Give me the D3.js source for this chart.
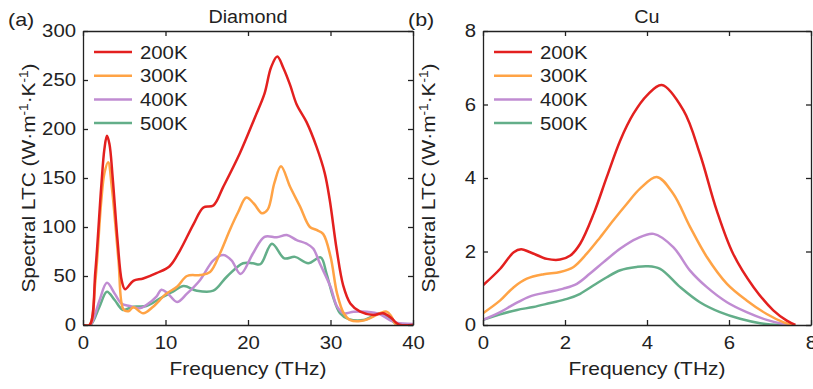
<html>
<script src="https://cdn.jsdelivr.net/npm/d3@7"></script>
<body style="margin:0;background:#fff">
<style>
text { font-family: "Liberation Sans", Arial, sans-serif; fill: #222; }
.axis path, .axis line { stroke: #222; stroke-width: 1.3; }
.curve { fill: none; stroke-width: 2.5; }
</style>
<script>
// temperatures / colours
var temps = ["200K", "300K", "400K", "500K"]
var colors = ["#e3201f", "#ffa345", "#c08cd2", "#63ae89"]

// ---- Diamond (panel a) ----
var dia200f = [0, 0.8, 1.5, 2.2, 2.6, 2.9, 3.2, 3.6, 4.2, 4.7, 5.1, 6.1, 7.3, 8.9, 10.5, 11.75, 13.4, 14.6, 15.8, 17, 19, 20.85, 22, 22.8, 23.55, 24.3, 25.1, 25.9, 27.1, 28.3, 29.3, 29.9, 30.75, 31.55, 32.4, 33.6, 35.2, 36.4, 37.4, 38, 38.5, 40]
var dia200v = [0, 0, 55, 140, 180, 193, 185, 150, 85, 45, 36.5, 45, 47.5, 53, 60, 76, 103, 120, 122, 141, 175, 212, 236, 263, 274, 262, 245, 225, 207, 182, 155, 128, 77, 40, 22, 13.6, 10.2, 12, 7, 2, 0, 0]
var dia300f = [0, 0.8, 1.5, 2.2, 2.6, 3.05, 3.5, 4.3, 4.9, 5.5, 6.1, 7.3, 8.5, 10.1, 11.4, 12.6, 14.2, 15.4, 16.6, 17.8, 18.8, 19.8, 20.7, 21.7, 22.4, 23.2, 24, 25.1, 26.3, 27.5, 28.3, 29.1, 30, 30.8, 31.6, 32.4, 33.6, 34.8, 36, 36.8, 37.4, 38, 40]
var dia300v = [0, 0, 45, 125, 155, 166, 140, 66, 16, 14, 18, 12, 18.7, 32, 39, 50, 51, 54, 73, 97, 115, 130, 124, 114, 118, 145, 162, 141, 121, 100, 97, 93, 70, 32, 12, 5, 4, 7, 12, 13.6, 8.5, 0, 0]
var dia400f = [0, 0.9, 1.5, 2.0, 2.9, 3.84, 4.65, 5.66, 6.87, 7.68, 8.9, 9.5, 10.3, 11.4, 12.6, 14.2, 15.8, 17, 18, 19.1, 20.6, 22, 23.5, 24.7, 25.9, 27.1, 27.9, 28.7, 30, 30.8, 31.6, 32.8, 34.4, 36, 37.2, 38, 40]
var dia400v = [0, 0, 12, 25, 43, 32, 22, 19.4, 17, 20.4, 29, 36, 32, 23.5, 32, 46, 66, 71.5, 66, 52, 73, 90, 89.5, 91.8, 86.7, 83, 78, 63, 39, 18.7, 12, 13.6, 13.6, 11, 5, 2.4, 1]
var dia500f = [0, 0.9, 2.0, 2.9, 3.84, 4.85, 6.06, 7.68, 9.3, 10.9, 12.2, 13.8, 15.8, 17.4, 19.4, 20.6, 21.5, 22.9, 24.4, 25.7, 27.3, 28.8, 29.5, 30.3, 31.15, 32.2, 34, 36, 37, 37.8, 38.5, 40]
var dia500v = [0, 0, 18.7, 34, 25.5, 15.3, 18.7, 19.4, 27, 34, 39.8, 35, 35, 49, 63, 63, 62, 83, 68, 69.5, 63, 69, 53, 29, 12, 6, 5, 12, 8.5, 2, 0, 0]
var diaXTicks = [0, 10, 20, 30, 40]
var diaYTicks = [0, 50, 100, 150, 200, 250, 300]

// ---- Cu (panel b) ----
var cu200f = [0, 0.42, 0.75, 0.93, 1.15, 1.56, 1.88, 2.13, 2.37, 2.7, 3.02, 3.35, 3.67, 4.0, 4.36, 4.89, 5.29, 5.7, 6.1, 6.6, 7.08, 7.41, 7.62]
var cu200v = [1.08, 1.53, 1.98, 2.06, 1.98, 1.8, 1.78, 1.89, 2.21, 3.03, 4.03, 5.03, 5.75, 6.25, 6.53, 5.84, 4.66, 3.12, 1.94, 1.03, 0.4, 0.12, 0]
var cu300f = [0, 0.42, 0.75, 1.07, 1.48, 1.88, 2.21, 2.53, 2.86, 3.18, 3.51, 3.83, 4.24, 4.64, 5.05, 5.46, 5.95, 6.43, 6.92, 7.32, 7.57]
var cu300v = [0.32, 0.67, 1.03, 1.26, 1.38, 1.44, 1.58, 1.94, 2.39, 2.85, 3.3, 3.71, 4.03, 3.57, 2.67, 1.85, 1.12, 0.67, 0.3, 0.08, 0]
var cu400f = [0, 0.42, 0.75, 1.15, 1.56, 1.96, 2.29, 2.61, 2.94, 3.35, 3.75, 4.16, 4.64, 5.05, 5.46, 5.95, 6.43, 6.92, 7.32, 7.55]
var cu400v = [0.14, 0.35, 0.56, 0.78, 0.89, 0.99, 1.12, 1.4, 1.71, 2.08, 2.35, 2.48, 2.12, 1.48, 1.03, 0.62, 0.35, 0.14, 0.03, 0]
var cu500f = [0, 0.42, 0.83, 1.23, 1.64, 2.05, 2.37, 2.7, 3.02, 3.35, 3.75, 4.0, 4.32, 4.81, 5.29, 5.78, 6.27, 6.76, 7.24, 7.5]
var cu500v = [0.14, 0.29, 0.41, 0.49, 0.6, 0.71, 0.85, 1.08, 1.3, 1.49, 1.58, 1.6, 1.53, 1.03, 0.62, 0.35, 0.17, 0.05, 0, 0]
var cuXTicks = [0, 2, 4, 6, 8]
var cuYTicks = [0, 2, 4, 6, 8]

var W = 813, H = 389
var svg = d3.select("body").append("svg").attr("width", W).attr("height", H)

function pairs(f, v) { return f.map((d, i) => [d, v[i]]) }

function drawPanel(o) {
  var x = d3.scaleLinear().domain(o.xd).range([o.left, o.right])
  var y = d3.scaleLinear().domain(o.yd).range([o.bottom, o.top])
  var g = svg.append("g")

  svg.append("clipPath").attr("id", "clip" + o.letter[1])
    .append("rect").attr("x", o.left).attr("y", o.top)
    .attr("width", o.right - o.left).attr("height", o.bottom - o.top)

  var line = d3.line()
    .x(d => x(d[0]))
    .y(d => y(d[1]))
    .curve(d3.curveCatmullRom.alpha(0.5))

  // curves, last series drawn first so red is on top
  var cg = g.append("g").attr("clip-path", "url(#clip" + o.letter[1] + ")")
  o.series.slice().reverse().forEach((s, j) => {
    var i = o.series.length - 1 - j
    cg.append("path").attr("class", "curve")
      .attr("stroke", colors[i])
      .attr("d", line(s))
  })

  // axes, ticks pointing inward on all four sides
  g.append("g").attr("class", "axis").attr("transform", "translate(0," + o.bottom + ")")
    .call(d3.axisBottom(x).tickValues(o.xt).tickSizeInner(-5).tickSizeOuter(0).tickPadding(11))
  g.append("g").attr("class", "axis").attr("transform", "translate(" + o.left + ",0)")
    .call(d3.axisLeft(y).tickValues(o.yt).tickSizeInner(-5).tickSizeOuter(0).tickPadding(7))
  g.append("g").attr("class", "axis").attr("transform", "translate(0," + o.top + ")")
    .call(d3.axisTop(x).tickValues(o.xt).tickSizeInner(-5).tickSizeOuter(0).tickFormat(""))
  g.append("g").attr("class", "axis").attr("transform", "translate(" + o.right + ",0)")
    .call(d3.axisRight(y).tickValues(o.yt).tickSizeInner(-5).tickSizeOuter(0).tickFormat(""))
  g.selectAll(".axis text").attr("font-size", 18).attr("fill", "#222")
    .style("font-family", "'Liberation Sans', Arial, sans-serif").classed("stretch", true)

  // legend
  temps.forEach((t, i) => {
    var ly = 52 + i * 23.7
    g.append("line").attr("x1", o.left + 11).attr("x2", o.left + 49)
      .attr("y1", ly).attr("y2", ly)
      .attr("stroke", colors[i]).attr("stroke-width", 2.5)
    g.append("text").attr("class", "stretch").attr("x", o.left + 57).attr("y", ly + 6.5)
      .attr("font-size", 18).text(t)
  })

  // title and panel letter
  g.append("text").attr("class", "stretch").attr("x", (o.left + o.right) / 2).attr("y", 23)
    .attr("text-anchor", "middle").attr("font-size", 17.5).text(o.title)
  g.append("text").attr("class", "stretch").attr("x", o.left - 75).attr("y", 26)
    .attr("font-size", 19).text(o.letter)

  // axis titles
  g.append("text").attr("class", "stretch").attr("x", (o.left + o.right) / 2).attr("y", 375)
    .attr("text-anchor", "middle").attr("font-size", 18.5).text("Frequency (THz)")
  var yl = g.append("text")
    .attr("transform", "translate(" + (o.left - 48) + "," + ((o.top + o.bottom) / 2) + ") rotate(-90) scale(1.13,1)")
    .attr("text-anchor", "middle").attr("font-size", 18.5)
  yl.append("tspan").text("Spectral LTC (W\u00b7m")
  yl.append("tspan").attr("font-size", 12).attr("dy", -7).text("-1")
  yl.append("tspan").attr("dy", 7).text("\u00b7K")
  yl.append("tspan").attr("font-size", 12).attr("dy", -7).text("-1")
  yl.append("tspan").attr("dy", 7).text(")")
}

drawPanel({
  left: 83, right: 413, top: 31, bottom: 325,
  xd: [0, 40], yd: [0, 300], xt: diaXTicks, yt: diaYTicks,
  title: "Diamond", letter: "(a)",
  series: [pairs(dia200f, dia200v), pairs(dia300f, dia300v), pairs(dia400f, dia400v), pairs(dia500f, dia500v)]
})
drawPanel({
  left: 483, right: 811, top: 31, bottom: 325,
  xd: [0, 8], yd: [0, 8], xt: cuXTicks, yt: cuYTicks,
  title: "Cu", letter: "(b)",
  series: [pairs(cu200f, cu200v), pairs(cu300f, cu300v), pairs(cu400f, cu400v), pairs(cu500f, cu500v)]
})

// the original figure is a little wider than tall, stretch texts horizontally
svg.selectAll("text.stretch").each(function () {
  var len = this.getComputedTextLength()
  if (len > 0) d3.select(this).attr("textLength", len * 1.13).attr("lengthAdjust", "spacingAndGlyphs")
})
</script>
</body>
</html>
